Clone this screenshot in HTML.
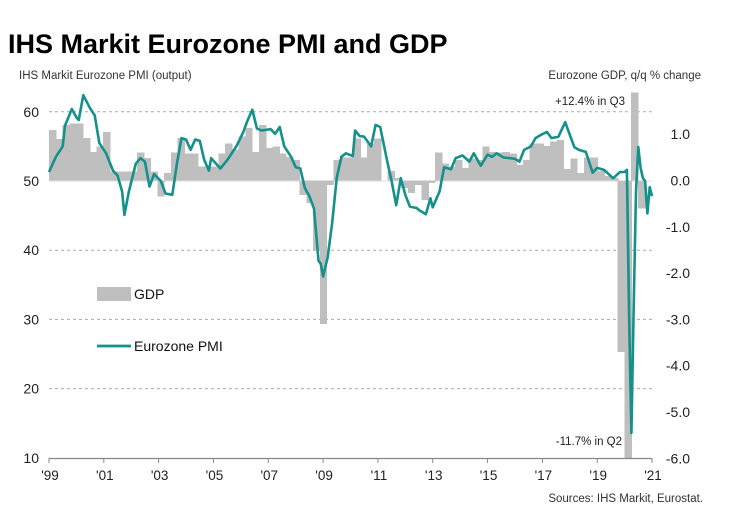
<!DOCTYPE html>
<html><head><meta charset="utf-8"><style>
body{margin:0;background:#fff;font-family:"Liberation Sans",Arial,sans-serif}
svg text{font-family:"Liberation Sans",Arial,sans-serif}
</style></head><body>
<svg id="c" width="730" height="521" viewBox="0 0 730 521" xmlns="http://www.w3.org/2000/svg">
<text x="8" y="53" font-size="27" font-weight="bold" fill="#000">IHS Markit Eurozone PMI and GDP</text>
<text x="19" y="79" font-size="11.5" fill="#333">IHS Markit Eurozone PMI (output)</text>
<text x="701" y="79" font-size="11.5" fill="#333" text-anchor="end">Eurozone GDP, q/q % change</text>
<g id="grid"></g><g id="bars" shape-rendering="crispEdges"></g><g id="line"></g><g id="axes"></g>
<text x="625" y="105" font-size="11.5" fill="#222" text-anchor="end">+12.4% in Q3</text>
<text x="622" y="445" font-size="11.5" fill="#222" text-anchor="end">-11.7% in Q2</text>
<g>
<rect x="97" y="287" width="34" height="14" fill="#bfbfbf"/>
<text x="134" y="299" font-size="14" fill="#111">GDP</text>
<line x1="97" y1="346" x2="131" y2="346" stroke="#13918a" stroke-width="2.8"/>
<text x="134" y="351" font-size="14" fill="#111">Eurozone PMI</text>
</g>
<text x="703" y="502" font-size="11.5" fill="#333" text-anchor="end">Sources: IHS Markit, Eurostat.</text>
</svg>
<script>
const pmiMonths=[0,3,6,7,10,12,13,15,18,20,22,25,28,30,32,33,35,38,40,42,44,46,49,51,54,56,58,60,62,64,66,68,70,71,75,78,82,85,87,89,91,93,97,99,101,103,106,108,110,112,114,116,118,119,120,122,124,126,128,130,133,134,136,138,141,143,145,148,150,152,154,156,158,161,162,165,167,168,171,173,176,178,181,184,186,189,192,194,196,199,202,204,206,208,211,213,215,218,220,223,226,230,232,235,238,240,243,247,250,252,253,254,255,256,257,258,259,260,261,262,263,264];
const pmiValues=[51.3,53.5,55,58,60.4,59.2,58.8,62.4,60.5,59.5,55.5,54,51.5,50.8,48.5,45.1,48.5,52.5,53.3,52.8,49.2,51,50,48.2,48,52.5,56.2,56,54.5,56,55.8,53,51.5,53.3,51.8,53,55,57,58.8,60.3,57.6,57.3,57.5,56.8,57.8,55,53.5,52,51.8,49,47.8,46,38.5,38,36.2,39,44,50.5,53.5,54,53.6,57.3,56.5,56.4,55,58.1,57.8,53,50,46.5,50.4,48,46.3,46.1,45.8,45.2,47.5,46.2,48.5,52,51.7,53.3,53.7,52.8,54,52.2,53.8,53.5,54,53.4,53.3,53.2,52.8,54.5,55,56.2,56.6,57.1,56.2,56.4,58.5,54.9,54.5,54.2,51.2,51.9,51.6,50.4,51.3,51.3,51.6,29.7,13.6,31.9,48.5,54.9,51.9,50.4,50,45.3,49.1,47.8];
const gdpValues=[1.09,0.9,1.2,1.23,1.23,0.92,0.62,0.73,1.05,0.19,0.19,0.19,0.19,0.6,0.49,0.19,-0.35,0.16,0.6,0.92,0.58,0.58,0.3,0.3,0.3,0.58,0.8,0.67,0.95,1.13,0.62,1.2,0.7,0.73,0.58,0.51,0.44,-0.31,-0.49,-1.5,-3.1,-0.1,0.44,0.5,0.5,0.91,0.5,0.8,0.91,0.0,0.2,0.05,-0.16,-0.27,-0.1,-0.42,-0.05,0.6,0.37,0.3,0.44,0.27,0.48,0.44,0.73,0.62,0.6,0.62,0.58,0.33,0.44,0.8,0.8,0.75,0.84,0.87,0.25,0.48,0.16,0.5,0.5,0.2,0.1,0.05,-3.7,-11.7,12.4,-0.6];
const leftTicks=[10,20,30,40,50,60];
const rightTicks=[1,0,-1,-2,-3,-4,-5,-6];
const xTickYears=[1999,2001,2003,2005,2007,2009,2011,2013,2015,2017,2019,2021];
const xTickLabels=["'99","'01","'03","'05","'07","'09","'11","'13","'15","'17","'19","'21"];

const NS="http://www.w3.org/2000/svg";
const X0=49,X1=652;
const xMonth=m=>X0+m*(X1-X0)/264;
const xQuarter=q=>X0+q*6.77;
const yL=v=>181-(v-50)*6.92;
const yR=v=>180.5-v*46.3;
function mk(tag,attrs,parent){const e=document.createElementNS(NS,tag);for(const k in attrs)e.setAttribute(k,attrs[k]);document.getElementById(parent).appendChild(e);return e;}

leftTicks.forEach(t=>{
  if(t!==10&&t!==50){const g=mk('line',{x1:X0,x2:X1,y1:yL(t),y2:yL(t),stroke:'#aaa','stroke-dasharray':'3,3','stroke-width':1},'grid');
  
  }
  const tx=mk('text',{x:39,y:yL(t)+5,'font-size':14,'text-anchor':'end',fill:'#222'},'axes');tx.textContent=t;
  
  
});
rightTicks.forEach(t=>{
  const tx=mk('text',{x:690,y:yR(t)+5,'font-size':14,'text-anchor':'end',fill:'#222'},'axes');tx.textContent=t.toFixed(1);
  
  
});
const bl=mk('line',{x1:X0,x2:X1,y1:yL(50),y2:yL(50),stroke:'#ddd','stroke-width':1},'grid');



gdpValues.forEach((v,i)=>{
  const cv=Math.max(-6,Math.min(1.9,v));
  const y0=yR(0),y1=yR(cv);
  const r=mk('rect',{x:xQuarter(i),y:Math.min(y0,y1),width:7.4,height:Math.abs(y1-y0),fill:'#bfbfbf'},'bars');
  
  
});

const d=pmiMonths.map((m,i)=>(i?'L':'M')+xMonth(m).toFixed(1)+','+yL(pmiValues[i]).toFixed(1)).join(' ');
const p=mk('path',{d:d,fill:'none',stroke:'#13918a','stroke-width':2.6,'stroke-linejoin':'round'},'line');



const ax=mk('line',{x1:X0,x2:X1,y1:458.5,y2:458.5,stroke:'#888','stroke-width':1.2},'axes');


xTickYears.forEach((yr,i)=>{
  const x=xMonth((yr-1999)*12);
  const t=mk('line',{x1:x,x2:x,y1:458,y2:463,stroke:'#888'},'axes');
  
  
  const tx=mk('text',{x:x+1,y:480,'font-size':13.5,'text-anchor':'middle',fill:'#222'},'axes');tx.textContent=xTickLabels[i];
  
  
});
</script>
</body></html>
